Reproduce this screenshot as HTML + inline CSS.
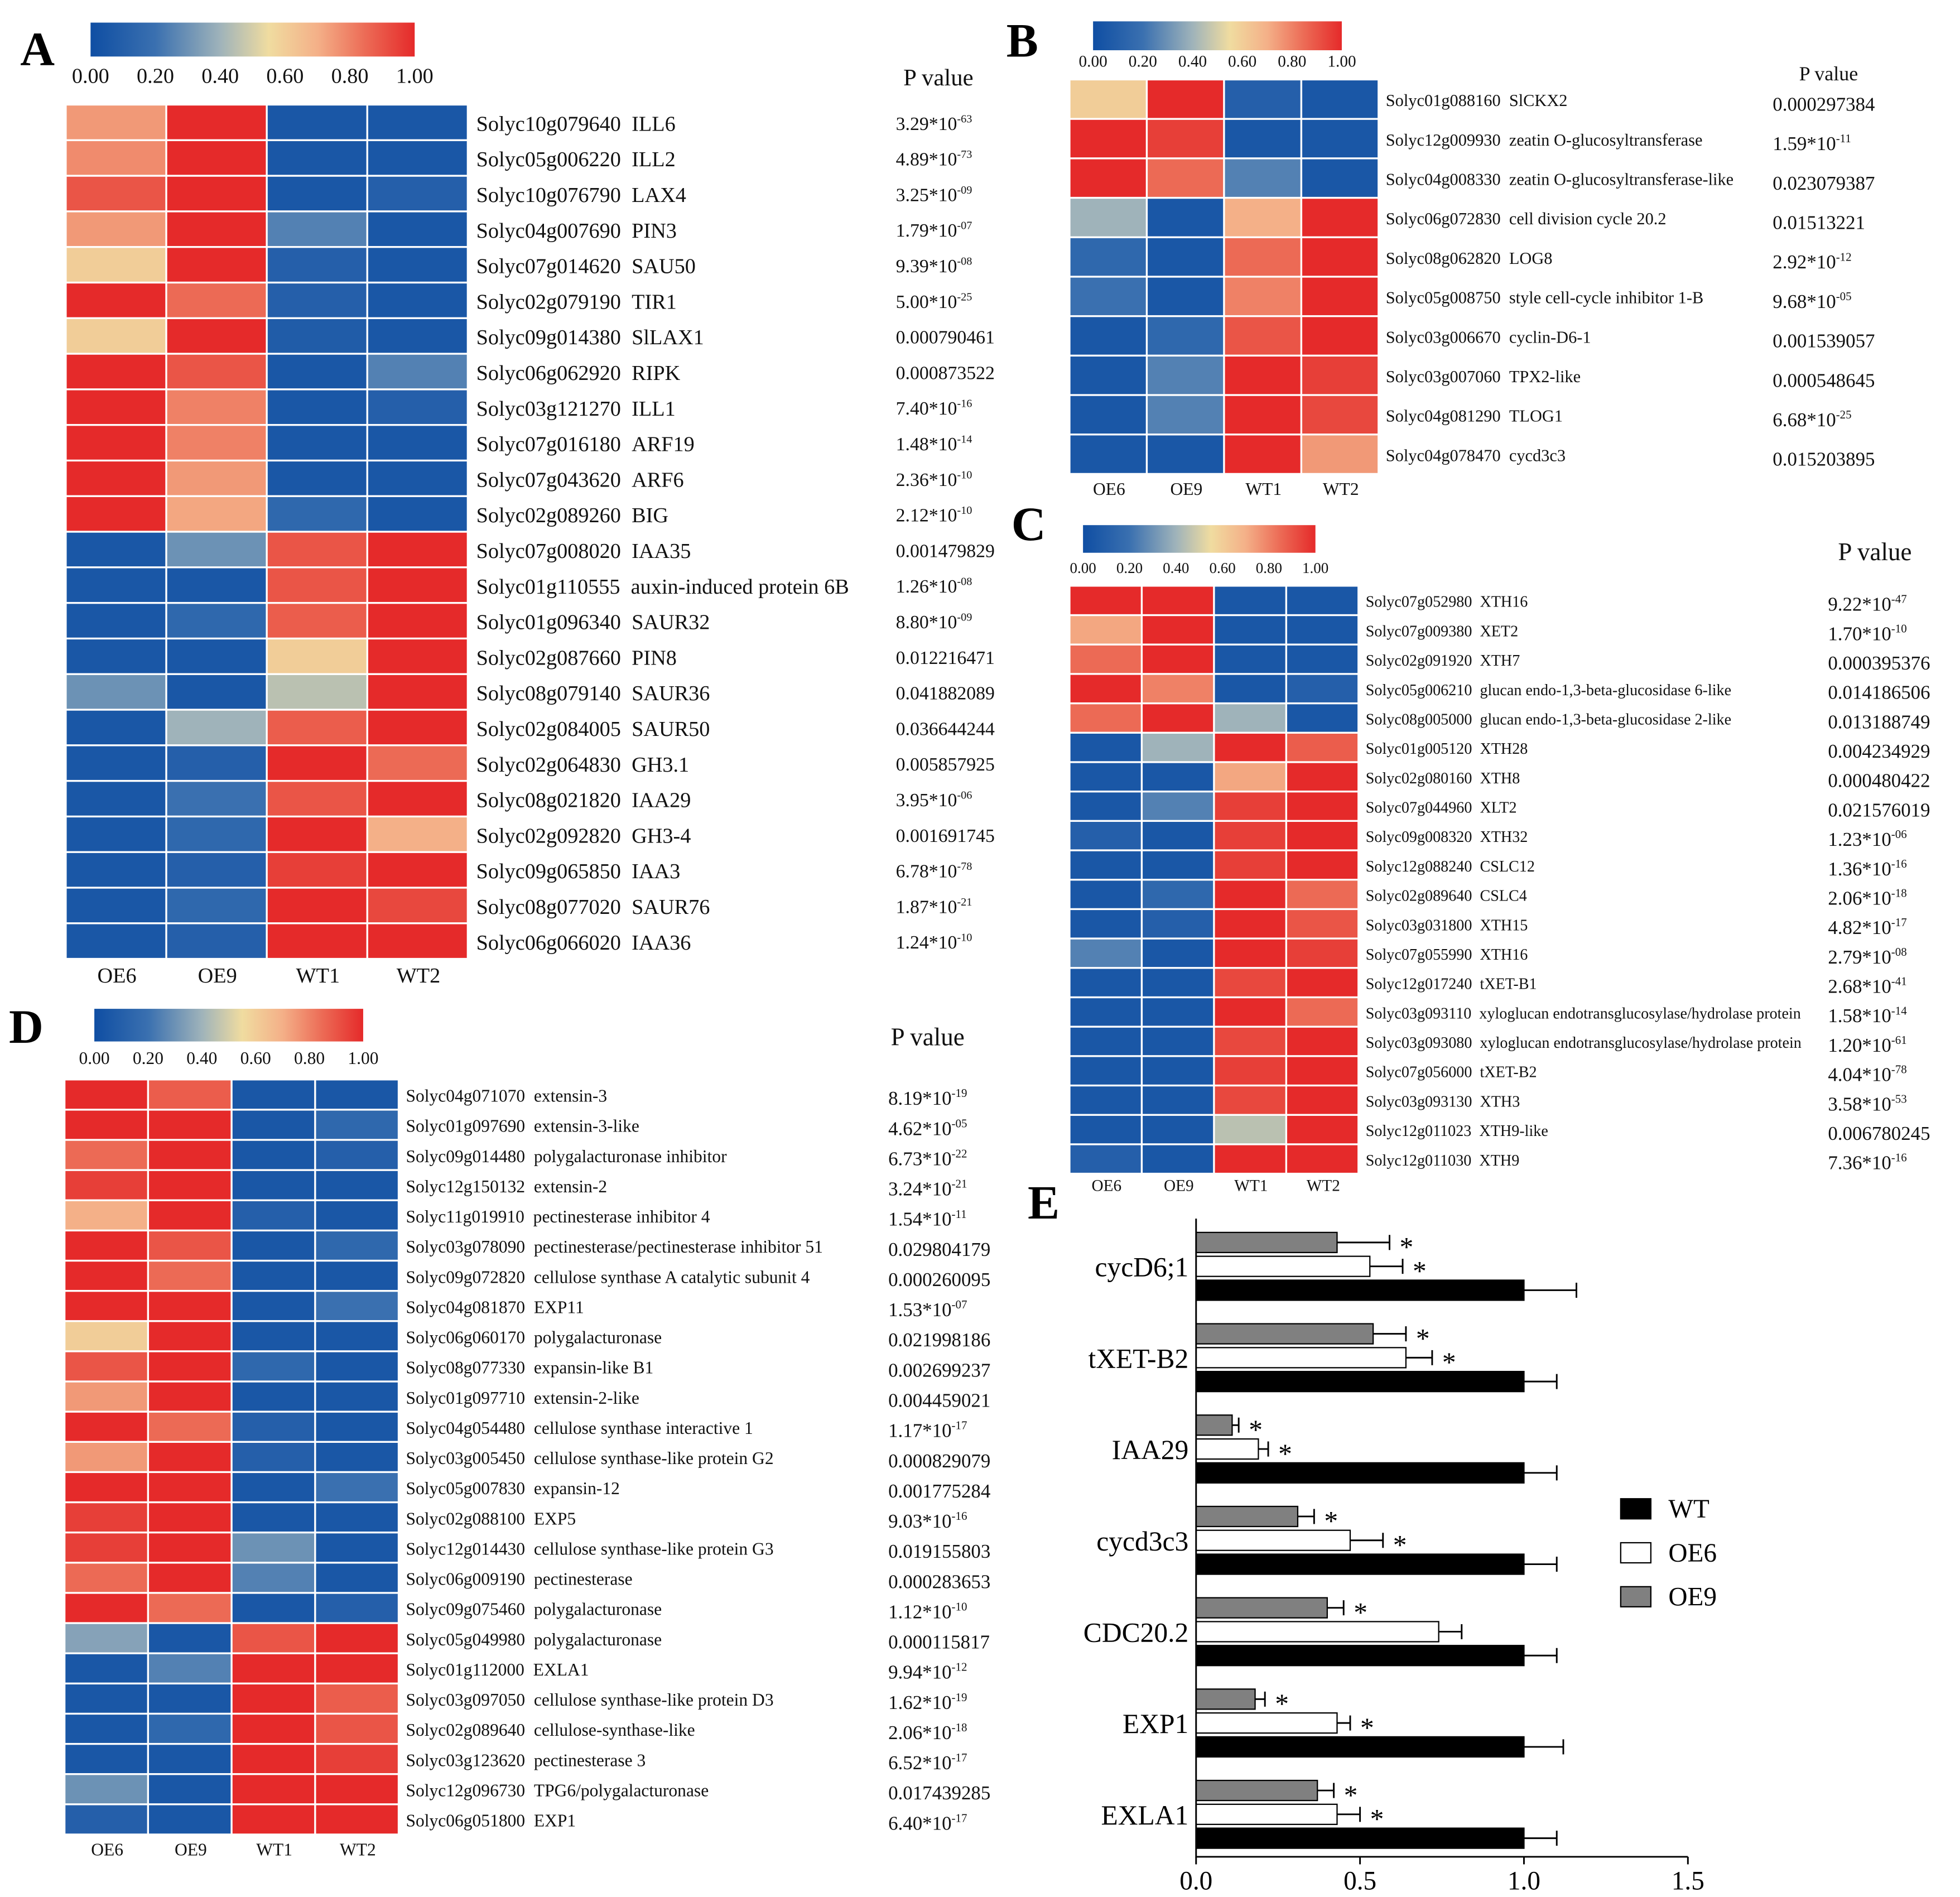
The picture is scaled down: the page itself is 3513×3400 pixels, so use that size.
<!DOCTYPE html>
<html><head><meta charset="utf-8"><style>
html,body{margin:0;padding:0;background:#fff;}
svg{display:block;font-family:"Liberation Serif",serif;}
</style></head><body>
<svg id="fig" width="3513" height="3400" viewBox="0 0 1560 1510" xmlns="http://www.w3.org/2000/svg">
<defs>
<linearGradient id="cmap" x1="0" x2="1" y1="0" y2="0">
<stop offset="0" stop-color="#0f4ea3"/><stop offset="0.2" stop-color="#3a70b0"/><stop offset="0.4" stop-color="#9fb3ba"/><stop offset="0.55" stop-color="#f0dca0"/><stop offset="0.7" stop-color="#f4b088"/><stop offset="0.85" stop-color="#ec6a55"/><stop offset="1" stop-color="#e52a2a"/>
</linearGradient>
</defs>
<rect width="1560" height="1510" fill="#fff"/>
</svg>
<script>
const NS="http://www.w3.org/2000/svg";
const svg=document.getElementById('fig');
const cols=["OE6","OE9","WT1","WT2"];
// Panel A
const genesA=["Solyc10g079640  ILL6","Solyc05g006220  ILL2","Solyc10g076790  LAX4","Solyc04g007690  PIN3","Solyc07g014620  SAU50","Solyc02g079190  TIR1","Solyc09g014380  SlLAX1","Solyc06g062920  RIPK","Solyc03g121270  ILL1","Solyc07g016180  ARF19","Solyc07g043620  ARF6","Solyc02g089260  BIG","Solyc07g008020  IAA35","Solyc01g110555  auxin-induced protein 6B","Solyc01g096340  SAUR32","Solyc02g087660  PIN8","Solyc08g079140  SAUR36","Solyc02g084005  SAUR50","Solyc02g064830  GH3.1","Solyc08g021820  IAA29","Solyc02g092820  GH3-4","Solyc09g065850  IAA3","Solyc08g077020  SAUR76","Solyc06g066020  IAA36"];
const valsA=[[0.75,1,0.05,0.05],[0.78,1,0.05,0.05],[0.9,1,0.05,0.1],[0.75,1,0.25,0.05],[0.6,1,0.1,0.05],[1,0.85,0.1,0.05],[0.6,1,0.08,0.05],[1,0.9,0.05,0.25],[1,0.8,0.05,0.1],[1,0.8,0.05,0.05],[1,0.75,0.05,0.05],[1,0.72,0.15,0.05],[0.05,0.3,0.9,1],[0.05,0.05,0.9,1],[0.05,0.15,0.88,1],[0.05,0.05,0.6,1],[0.3,0.05,0.45,1],[0.05,0.4,0.88,1],[0.05,0.1,1,0.85],[0.05,0.2,0.9,1],[0.05,0.15,1,0.7],[0.05,0.1,0.95,1],[0.05,0.15,1,0.93],[0.05,0.1,1,1]];
const pA=["3.29*10|-63","4.89*10|-73","3.25*10|-09","1.79*10|-07","9.39*10|-08","5.00*10|-25","0.000790461","0.000873522","7.40*10|-16","1.48*10|-14","2.36*10|-10","2.12*10|-10","0.001479829","1.26*10|-08","8.80*10|-09","0.012216471","0.041882089","0.036644244","0.005857925","3.95*10|-06","0.001691745","6.78*10|-78","1.87*10|-21","1.24*10|-10"];
// Panel B
const genesB=["Solyc01g088160  SlCKX2","Solyc12g009930  zeatin O-glucosyltransferase","Solyc04g008330  zeatin O-glucosyltransferase-like","Solyc06g072830  cell division cycle 20.2","Solyc08g062820  LOG8","Solyc05g008750  style cell-cycle inhibitor 1-B","Solyc03g006670  cyclin-D6-1","Solyc03g007060  TPX2-like","Solyc04g081290  TLOG1","Solyc04g078470  cycd3c3"];
const valsB=[[0.6,1,0.1,0.05],[1,0.95,0.05,0.05],[1,0.85,0.25,0.05],[0.4,0.05,0.7,1],[0.15,0.05,0.85,1],[0.2,0.05,0.8,1],[0.05,0.15,0.9,1],[0.05,0.25,1,0.95],[0.05,0.25,1,0.93],[0.05,0.05,1,0.75]];
const pB=["0.000297384","1.59*10|-11","0.023079387","0.01513221","2.92*10|-12","9.68*10|-05","0.001539057","0.000548645","6.68*10|-25","0.015203895"];
// Panel C
const genesC=["Solyc07g052980  XTH16","Solyc07g009380  XET2","Solyc02g091920  XTH7","Solyc05g006210  glucan endo-1,3-beta-glucosidase 6-like","Solyc08g005000  glucan endo-1,3-beta-glucosidase 2-like","Solyc01g005120  XTH28","Solyc02g080160  XTH8","Solyc07g044960  XLT2","Solyc09g008320  XTH32","Solyc12g088240  CSLC12","Solyc02g089640  CSLC4","Solyc03g031800  XTH15","Solyc07g055990  XTH16","Solyc12g017240  tXET-B1","Solyc03g093110  xyloglucan endotransglucosylase/hydrolase protein","Solyc03g093080  xyloglucan endotransglucosylase/hydrolase protein","Solyc07g056000  tXET-B2","Solyc03g093130  XTH3","Solyc12g011023  XTH9-like","Solyc12g011030  XTH9"];
const valsC=[[1,1,0.05,0.05],[0.72,1,0.05,0.05],[0.85,1,0.05,0.05],[1,0.8,0.05,0.1],[0.85,1,0.4,0.05],[0.05,0.4,1,0.88],[0.05,0.05,0.72,1],[0.05,0.25,0.95,1],[0.1,0.05,0.95,1],[0.05,0.05,0.95,1],[0.05,0.15,1,0.85],[0.05,0.1,1,0.9],[0.25,0.05,1,0.95],[0.05,0.05,0.93,1],[0.05,0.05,1,0.85],[0.05,0.05,0.93,1],[0.05,0.05,0.95,1],[0.05,0.05,0.93,1],[0.05,0.05,0.45,1],[0.1,0.05,1,1]];
const pC=["9.22*10|-47","1.70*10|-10","0.000395376","0.014186506","0.013188749","0.004234929","0.000480422","0.021576019","1.23*10|-06","1.36*10|-16","2.06*10|-18","4.82*10|-17","2.79*10|-08","2.68*10|-41","1.58*10|-14","1.20*10|-61","4.04*10|-78","3.58*10|-53","0.006780245","7.36*10|-16"];
// Panel D
const genesD=["Solyc04g071070  extensin-3","Solyc01g097690  extensin-3-like","Solyc09g014480  polygalacturonase inhibitor","Solyc12g150132  extensin-2","Solyc11g019910  pectinesterase inhibitor 4","Solyc03g078090  pectinesterase/pectinesterase inhibitor 51","Solyc09g072820  cellulose synthase A catalytic subunit 4","Solyc04g081870  EXP11","Solyc06g060170  polygalacturonase","Solyc08g077330  expansin-like B1","Solyc01g097710  extensin-2-like","Solyc04g054480  cellulose synthase interactive 1","Solyc03g005450  cellulose synthase-like protein G2","Solyc05g007830  expansin-12","Solyc02g088100  EXP5","Solyc12g014430  cellulose synthase-like protein G3","Solyc06g009190  pectinesterase","Solyc09g075460  polygalacturonase","Solyc05g049980  polygalacturonase","Solyc01g112000  EXLA1","Solyc03g097050  cellulose synthase-like protein D3","Solyc02g089640  cellulose-synthase-like","Solyc03g123620  pectinesterase 3","Solyc12g096730  TPG6/polygalacturonase","Solyc06g051800  EXP1"];
const valsD=[[1,0.88,0.05,0.05],[1,1,0.05,0.15],[0.85,1,0.05,0.1],[0.95,1,0.05,0.05],[0.7,1,0.1,0.05],[1,0.9,0.05,0.15],[1,0.85,0.05,0.05],[1,1,0.05,0.2],[0.6,1,0.05,0.05],[0.9,1,0.15,0.05],[0.75,1,0.05,0.05],[1,0.85,0.1,0.05],[0.75,1,0.1,0.05],[1,1,0.05,0.2],[0.95,1,0.05,0.05],[0.95,1,0.3,0.05],[0.85,1,0.25,0.05],[1,0.85,0.05,0.1],[0.35,0.05,0.9,1],[0.05,0.25,1,1],[0.05,0.05,1,0.88],[0.05,0.15,1,0.9],[0.05,0.05,1,0.95],[0.3,0.05,1,1],[0.1,0.05,1,1]];
const pD=["8.19*10|-19","4.62*10|-05","6.73*10|-22","3.24*10|-21","1.54*10|-11","0.029804179","0.000260095","1.53*10|-07","0.021998186","0.002699237","0.004459021","1.17*10|-17","0.000829079","0.001775284","9.03*10|-16","0.019155803","0.000283653","1.12*10|-10","0.000115817","9.94*10|-12","1.62*10|-19","2.06*10|-18","6.52*10|-17","0.017439285","6.40*10|-17"];
// Panel E
const catsE=["cycD6;1","tXET-B2","IAA29","cycd3c3","CDC20.2","EXP1","EXLA1"];
const wtE=[1,1,1,1,1,1,1];
const wtErr=[0.16,0.1,0.1,0.1,0.1,0.12,0.1];
const oe6E=[0.53,0.64,0.19,0.47,0.74,0.43,0.43];
const oe6Err=[0.1,0.08,0.03,0.1,0.07,0.04,0.07];
const oe9E=[0.43,0.54,0.11,0.31,0.40,0.18,0.37];
const oe9Err=[0.16,0.1,0.02,0.05,0.05,0.03,0.05];
const oe6Star=[1,1,1,1,0,1,1];
const oe9Star=[1,1,1,1,1,1,1];
const ticksE=[0,0.5,1.0,1.5];
const tickLabelsE=["0.0","0.5","1.0","1.5"];

function el(tag,attrs,parent,text){const e=document.createElementNS(NS,tag);for(const k in attrs)e.setAttribute(k,attrs[k]);if(text!==undefined)e.textContent=text;(parent||svg).appendChild(e);return e;}
const stops=[[0,[15,78,163]],[0.2,[58,112,176]],[0.4,[159,179,186]],[0.55,[240,220,160]],[0.7,[244,176,136]],[0.85,[236,106,85]],[1,[229,42,42]]];
function cmap(v){for(let i=1;i<stops.length;i++){if(v<=stops[i][0]){const a=stops[i-1],b=stops[i];const t=(v-a[0])/(b[0]-a[0]);const c=a[1].map((x,j)=>Math.round(x+(b[1][j]-x)*t));return `rgb(${c})`;}}return 'rgb(229,42,42)';}
function pval(g,x,y,s,size,name){const t=el('text',{x:x,y:y,'font-size':size,fill:'#111'},g);

const parts=s.split('|');const a=el('tspan',{},t,parts[0]);if(parts[1]){el('tspan',{'font-size':size*0.6,dy:-size*0.4},t,parts[1]);}}
function heat(o){
 const g=el('g',{});
 const cw=(o.x1-o.x0)/4,rh=(o.y1-o.y0)/o.genes.length;
 o.vals.forEach((row,r)=>row.forEach((v,c)=>{const rc=el('rect',{x:o.x0+c*cw,y:o.y0+r*rh,width:cw-1.5,height:rh-1.5,fill:cmap(v)},g);
  }));
 o.genes.forEach((gn,r)=>{const t=el('text',{x:o.lx,y:o.y0+(r+0.5)*rh+o.gs*0.35,'font-size':o.gs,fill:'#111','xml:space':'preserve'},g,gn.replace(/  /g,'\u00a0\u00a0'));
  
  pval(g,o.px,o.y0+(r+0.5)*rh+o.ps*0.35+(o.pdy||0),o.pv[r],o.ps,'p-value');});
 cols.forEach((c,i)=>{const t=el('text',{x:o.x0+(i+0.5)*cw,y:o.cy,'font-size':o.cs,'text-anchor':'middle',fill:'#111'},g,c);
  });
 const ph=el('text',{x:o.phx,y:o.phy,'font-size':o.phs,fill:'#111'},g,'P value');
 
 const cb=el('rect',{x:o.bx0,y:o.by0,width:o.bx1-o.bx0,height:o.by1-o.by0,fill:'url(#cmap)'},g);
 
 ["0.00","0.20","0.40","0.60","0.80","1.00"].forEach((l,i)=>{const t=el('text',{x:o.bx0+i*(o.bx1-o.bx0)/5,y:o.bly,'font-size':o.bls,'text-anchor':'middle',fill:'#111'},g,l);
  });
 const L=el('text',{x:o.Lx,y:o.Ly,'font-size':38,'font-weight':'bold',fill:'#000'},g,o.letter);
 
}
heat({name:'heatmap-a',letter:'A',Lx:16,Ly:52,x0:53,x1:373,y0:84,y1:764,genes:genesA,vals:valsA,pv:pA,lx:379,gs:17,px:713,ps:15,cy:782,cs:17,phx:719,phy:68,phs:19,bx0:72,bx1:330,by0:18,by1:45,bly:66,bls:17});
heat({name:'heatmap-b',letter:'B',Lx:801,Ly:45,x0:852,x1:1098,y0:64,y1:378,genes:genesB,vals:valsB,pv:pB,lx:1103,gs:13.5,px:1411,ps:15.5,pdy:3,cy:394,cs:14,phx:1432,phy:64,phs:16,bx0:870,bx1:1068,by0:17,by1:40,bly:53,bls:13});
heat({name:'heatmap-c',letter:'C',Lx:805,Ly:430,x0:852,x1:1082,y0:467,y1:935,genes:genesC,vals:valsC,pv:pC,lx:1087,gs:12.5,px:1455,ps:15.5,pdy:2,cy:948,cs:13,phx:1463,phy:446,phs:20,bx0:862,bx1:1047,by0:418,by1:440,bly:456,bls:12});
heat({name:'heatmap-d',letter:'D',Lx:7,Ly:830,x0:52,x1:318,y0:860,y1:1461,genes:genesD,vals:valsD,pv:pD,lx:323,gs:14,px:707,ps:15.5,pdy:2,cy:1477,cs:14,phx:709,phy:832,phs:20,bx0:75,bx1:289,by0:803,by1:829,bly:847,bls:14});

// Panel E bar chart
(function(){
 const g=el('g',{});
 const X0=952,SC=261,Y0=981,STEP=72.7,BH=16,BS=19;
 const xs=v=>X0+v*SC;
 const L=el('text',{x:818,y:970,'font-size':38,'font-weight':'bold',fill:'#000'},g,'E');
 
 const series=[[oe9E,oe9Err,'#808080',oe9Star,'oe9'],[oe6E,oe6Err,'#fff',oe6Star,'oe6'],[wtE,wtErr,'#000',null,'wt']];
 catsE.forEach((c,i)=>{
  const gy=Y0+i*STEP;
  series.forEach((s,k)=>{const y=gy+k*BS,v=s[0][i],e=s[1][i];
   const r=el('rect',{x:X0,y:y,width:xs(v)-X0,height:BH,fill:s[2],stroke:'#000','stroke-width':1},g);
   
   const ex=xs(v+e);
   const ln=el('path',{d:`M${xs(v)} ${y+BH/2}H${ex}M${ex} ${y+2}V${y+BH-2}`,stroke:'#000','stroke-width':1.3,fill:'none'},g);
   
   if(s[3]&&s[3][i]){const st=el('text',{x:ex+8,y:y+BH/2+11,'font-size':22,fill:'#000'},g,'*');
    }
  });
  const t=el('text',{x:946,y:gy+BS+BH/2+8,'font-size':22,'text-anchor':'end',fill:'#000'},g,c);
  
 });
 const ax=el('path',{d:`M${X0} 970V1478H${xs(1.5)}`,stroke:'#000','stroke-width':1.3,fill:'none'},g);
 
 ticksE.forEach((v,i)=>{const tk=el('path',{d:`M${xs(v)} 1478V1484`,stroke:'#000','stroke-width':1.3},g);
  
  const t=el('text',{x:xs(v),y:1504,'font-size':21,'text-anchor':'middle',fill:'#000'},g,tickLabelsE[i]);
  });
 [['WT','#000',1193],['OE6','#fff',1228],['OE9','#808080',1263]].forEach(l=>{
  const r=el('rect',{x:1290,y:l[2],width:24,height:16,fill:l[1],stroke:'#000','stroke-width':1},g);
  
  const t=el('text',{x:1328,y:l[2]+15,'font-size':21,fill:'#000'},g,l[0]);
  });
})();
</script>
</body></html>
